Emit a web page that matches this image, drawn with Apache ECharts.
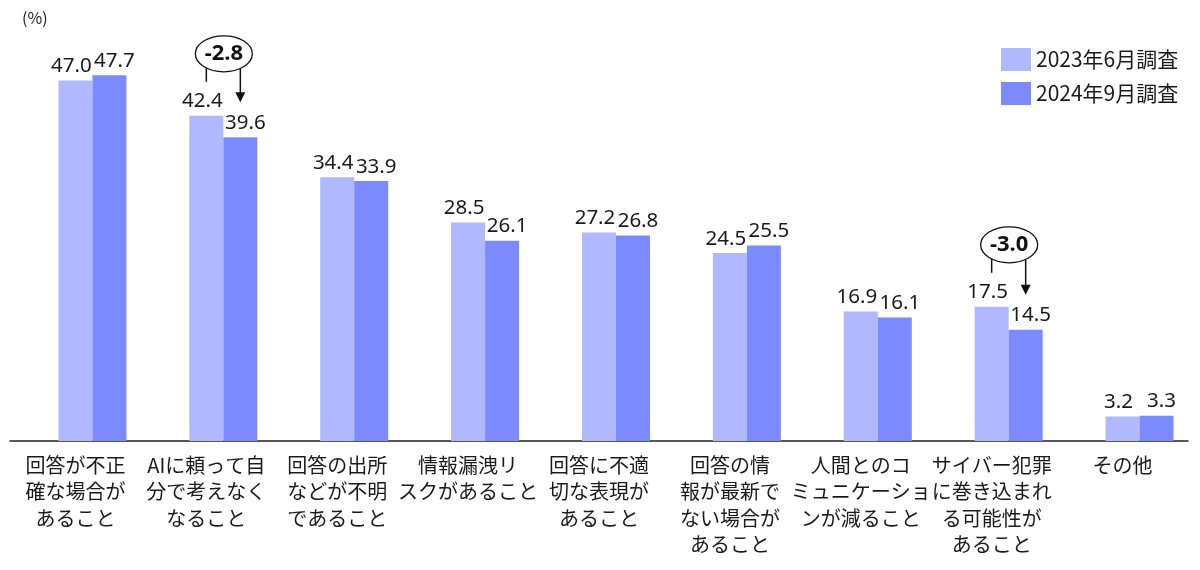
<!DOCTYPE html>
<html><head><meta charset="utf-8">
<script src="https://cdn.jsdelivr.net/npm/echarts@6/dist/echarts.min.js"></script>
<style>html,body{margin:0;padding:0;background:#fff}#c{width:1200px;height:570px}</style>
</head><body><div id="c"></div>
<script>
const categories = [
  '回答が不正\n確な場合が\nあること',
  'AIに頼って自\n分で考えなく\nなること',
  '回答の出所\nなどが不明\nであること',
  '情報漏洩リ\nスクがあること',
  '回答に不適\n切な表現が\nあること',
  '回答の情\n報が最新で\nない場合が\nあること',
  '人間とのコ\nミュニケーショ\nンが減ること',
  'サイバー犯罪\nに巻き込まれ\nる可能性が\nあること',
  'その他'
];
const seriesNames = ['2023年6月調査', '2024年9月調査'];
const values2023 = [47.0, 42.4, 34.4, 28.5, 27.2, 24.5, 16.9, 17.5, 3.2];
const values2024 = [47.7, 39.6, 33.9, 26.1, 26.8, 25.5, 16.1, 14.5, 3.3];
const annotations = [ { index: 1, text: '-2.8' }, { index: 7, text: '-3.0' } ];
const unitLabel = '(%)';

const FONT = '"Noto Sans CJK JP", "Noto Sans", sans-serif';
const NUMFONT = '"Noto Sans", "Noto Sans CJK JP", sans-serif';
const TXT = '#1a1a1a';
const chart = echarts.init(document.getElementById('c'));
function labelCfg(dx) {
  return { show: true, position: 'top', distance: 4, offset: [dx, 0], fontSize: 20.5, color: TXT, fontFamily: NUMFONT, formatter: p => p.value.toFixed(1) };
}
const unitText = { type: 'text', left: 22, top: 10, style: { text: unitLabel, fontSize: 16, fill: TXT, fontFamily: FONT } };
chart.setOption({
  animation: false,
  textStyle: { fontFamily: FONT },
  grid: { left: 10, right: 12, top: 57.5, bottom: 129, containLabel: false },
  legend: {
    data: seriesNames, orient: 'vertical', left: 996, top: 43, itemWidth: 30, itemHeight: 23, itemGap: 11,
    textStyle: { fontSize: 21, color: TXT, fontFamily: FONT }, icon: 'rect'
  },
  xAxis: {
    type: 'category', data: categories,
    axisLine: { lineStyle: { color: '#222', width: 1.5 } },
    axisTick: { show: false },
    axisLabel: { interval: 0, margin: 11, fontSize: 20, lineHeight: 26.5, color: TXT, fontFamily: FONT }
  },
  yAxis: { type: 'value', min: 0, max: 50, show: false, splitLine: { show: false } },
  series: [
    { name: '_pad', type: 'bar', barWidth: 34, barGap: '0%', data: categories.map(() => null), silent: true },
    { name: seriesNames[0], type: 'bar', barWidth: 34, barGap: '0%', data: values2023, itemStyle: { color: '#b0b8ff' }, label: labelCfg(-4) },
    { name: seriesNames[1], type: 'bar', barWidth: 34, barGap: '0%', data: values2024, itemStyle: { color: '#7b8bff' }, label: labelCfg(5) }
  ],
  graphic: [unitText]
});

function drawAnnotations() {
  const els = [unitText];
  annotations.forEach(a => {
    const p1 = chart.convertToPixel({ xAxisIndex: 0, yAxisIndex: 0 }, [a.index, values2023[a.index]]);
    const p2 = chart.convertToPixel({ xAxisIndex: 0, yAxisIndex: 0 }, [a.index, values2024[a.index]]);
    const xL = p1[0], xR = p1[0] + 34;
    const cx = xL + 17.5, cy = p1[1] - 62;
    els.push({ type: 'ellipse', shape: { cx: cx, cy: cy, rx: 28.5, ry: 18 }, style: { fill: '#fff', stroke: '#111', lineWidth: 1.3 } });
    els.push({ type: 'text', style: { text: a.text, x: cx, y: cy, align: 'center', verticalAlign: 'middle', fontSize: 22, fontWeight: 'bold', fill: '#111', fontFamily: NUMFONT } });
    els.push({ type: 'line', shape: { x1: xL, y1: cy + 14, x2: xL, y2: p1[1] - 34 }, style: { stroke: '#111', lineWidth: 1.5 } });
    const tip = p2[1] - 35;
    els.push({ type: 'line', shape: { x1: xR, y1: cy + 15, x2: xR, y2: tip - 6 }, style: { stroke: '#111', lineWidth: 1.5 } });
    els.push({ type: 'polygon', shape: { points: [[xR - 5, tip - 10], [xR + 5, tip - 10], [xR, tip]] }, style: { fill: '#111' } });
  });
  chart.setOption({ graphic: els }, { replaceMerge: ['graphic'] });
}
drawAnnotations();
</script></body></html>
